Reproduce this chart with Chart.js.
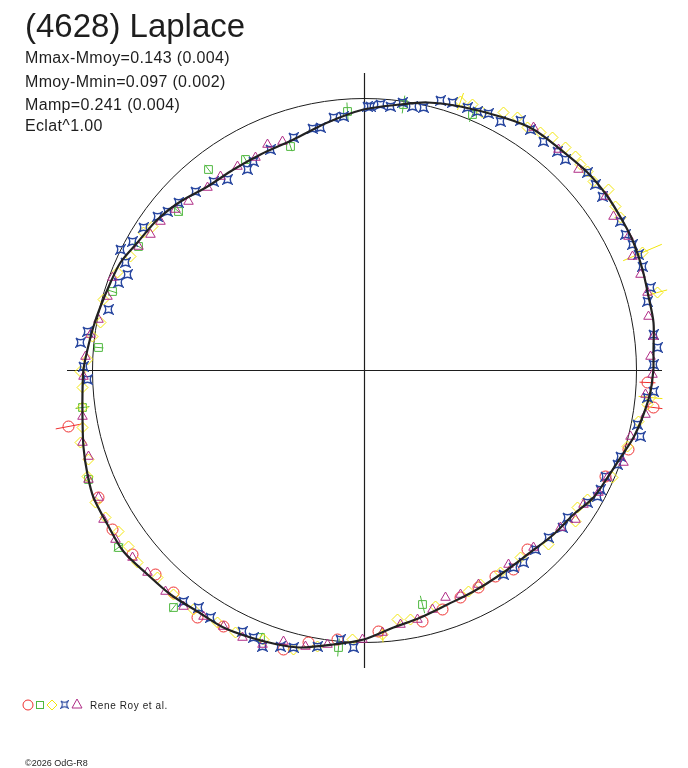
<!DOCTYPE html>
<html>
<head>
<meta charset="utf-8">
<script src="https://cdn.jsdelivr.net/npm/chart.js@4.4.1/dist/chart.umd.min.js"></script>
<style>
  html, body { margin: 0; padding: 0; background: #fff; }
  #wrap { width: 688px; height: 768px; }
</style>
</head>
<body>
<div id="wrap"><canvas id="polarChart" width="688" height="768"></canvas></div>
<script>
// Lightcurve in polar form, offsets from centre (mean circle radius = 272)
const circleRadius = 272;
const axisReach = 297.5;

const titleText = "(4628) Laplace";
const infoLines = [
  "Mmax-Mmoy=0.143 (0.004)",
  "Mmoy-Mmin=0.097 (0.002)",
  "Mamp=0.241 (0.004)",
  "Eclat^1.00",
];
const legendText = "Rene Roy et al.";
const copyText = "\u00a92026 OdG-R8";

// Fitted curve
const curveX = [289, 289, 289, 284, 278, 269, 259, 243, 223, 196, 169, 139, 96, 63, 36, -1, -37, -71, -104, -131, -157, -184, -207, -227, -244, -254, -264, -271, -277, -281, -282, -282, -281, -277, -271, -257, -241, -217, -194, -167, -141, -114, -87, -64, -31, -1, 29, 56, 83, 109, 136, 163, 189, 209, 229, 243, 256, 269, 279, 286];
const curveY = [1, 21, 48, 74, 101, 128, 148, 174, 198, 221, 241, 253, 264, 268, 266, 261, 248, 231, 216, 201, 184, 169, 151, 128, 108, 88, 64, 44, 21, 1, -21, -47, -77, -104, -127, -154, -181, -204, -224, -241, -257, -267, -274, -277, -274, -269, -257, -247, -234, -221, -204, -184, -164, -144, -127, -107, -87, -67, -44, -21];

// Observation sessions (x, y, radial error)
const redX = [-296, -266, -252, -232, -209, -191, -167, -141, -81, -56, -27, 14, 58, 78, 96, 114, 131, 149, 163, 241, 264, 283, 289];
const redY = [-56, -127, -159, -184, -204, -222, -247, -256, -279, -272, -269, -261, -251, -239, -227, -217, -206, -199, -179, -106, -79, -12, -37];
const redErr = [13, 0, 0, 0, 0, 0, 0, 0, 0, 0, 0, 0, 0, 0, 0, 0, 0, 0, 0, 0, 0, 8, 9];

const greenX = [-17, -74, -119, -156, -186, -226, -252, -266, 39, 108, -282, -276, -246, -191, -104, -26, 58];
const greenY = [259, 224, 211, 201, 159, 124, 79, 23, 266, 256, -37, -109, -177, -237, -267, -277, -234];
const greenErr = [9, 5, 5, 6, 6, 5, 5, 5, 9, 8, 7, 5, 6, 6, 5, 9, 9];

const yellowX = [96, 108, 118, 139, 153, 163, 176, 188, 201, 211, 216, 223, 229, 244, 251, 256, 278, 293,
  -212, -221, -234, -247, -261, -264, -272, -277, -284,
  -282, -282, -282, -284, -276, -277, -269, -259, -246, -236, -227, -207, -191, -171, -147, -129, -101, -71, -47, -12,
  286, 283, 274, 263, 248, 223, 213, 211, 184, 156, 136, 116, 104, 71, 46, 33, 18];
const yellowY = [269, 266, 258, 258, 253, 243, 238, 233, 223, 214, 206, 199, 189, 181, 164, 153, 118, 78,
  144, 138, 114, 98, 71, 48, 34, 11, -1,
  -17, -37, -57, -72, -89, -106, -132, -147, -161, -176, -192, -207, -224, -239, -252, -262, -269, -279, -276, -269,
  -27, -34, -51, -76, -107, -129, -137, -151, -174, -187, -202, -214, -221, -236, -249, -249, -264];
const yellowErr = [9, 0, 0, 0, 0, 0, 0, 0, 0, 0, 0, 0, 0, 0, 0, 0, 21, 10,
  0, 0, 0, 0, 0, 0, 0, 0, 0,
  0, 0, 0, 0, 0, 0, 0, 0, 0, 0, 0, 0, 0, 0, 0, 0, 0, 0, 0, 0,
  12, 0, 0, 0, 0, 0, 0, 0, 0, 0, 0, 0, 0, 0, 0, 0, 8];

const blueX = [3, -21, -31, -44, -52, -71, -94, -111, -117, -137, -151, -169, -186, -197, -207, -221, -232, -244, -239, -237, -246, -256, -277, -284, -281,
  6, 16, 26, 38, 48, 59, 76, 88, 103, 113, 124, 136, 156, 166, 179, 193, 201, 223, 231, 238, 256, 261, 268, 274, 278, 286, 283, 289, 293, 289,
  289, 283, 273, 276, 256, 253, 241, 236, 233, 223, 203, 198, 184, 171, 159, 149, 139,
  -277, -181, -166, -154, -122, -111, -102, -84, -71, -47, -24, -11];
const blueY = [264, 254, 253, 243, 242, 233, 221, 209, 201, 191, 189, 179, 168, 159, 154, 143, 129, 121, 108, 96, 88, 61, 39, 28, 4,
  264, 266, 264, 268, 264, 263, 270, 268, 263, 259, 257, 249, 250, 241, 229, 219, 211, 198, 186, 174, 149, 136, 126, 116, 104, 83, 69, 36, 23, 6,
  -21, -27, -54, -66, -86, -94, -106, -119, -126, -132, -147, -157, -167, -179, -192, -197, -204,
  -9, -231, -237, -247, -261, -267, -276, -276, -277, -276, -269, -277];

const magentaX = [-97, -82, -109, -127, -144, -157, -176, -189, -204, -214, -226, -252, -257, -266, -274, -279, -281,
  169, 194, 214, 241, 249, 264, 268, 276, 283, 284, 289, 286, 288,
  281, 281, 266, 259, 243, 234, 219, 211, 196, 169, 144, 114, 96, 81, 68, 53, 36, 18, -2,
  -282, -282, -276, -276, -266, -261, -249, -232, -217, -199, -181, -161, -141, -122, -102, -81, -59, -37];
const magentaY = [226, 229, 213, 204, 194, 183, 169, 161, 149, 136, 124, 93, 74, 51, 36, 14, -6,
  243, 221, 201, 174, 154, 134, 114, 96, 78, 54, 34, 14, -4,
  -24, -44, -66, -92, -107, -122, -134, -149, -157, -177, -194, -214, -224, -227, -239, -249, -254, -262, -269,
  -46, -72, -86, -109, -127, -149, -169, -187, -202, -221, -236, -246, -256, -267, -274, -271, -276, -274];

const COLORS = {
  red: "#ee2f2f",
  green: "#4fb83f",
  yellow: "#f2e60c",
  blue: "#2a48a0",
  magenta: "#b02c86",
  ink: "#1e1e1e",
};

// Concave four-point star used for one session
function makeStar(color, size) {
  const c = document.createElement("canvas");
  c.width = size;
  c.height = size;
  const g = c.getContext("2d");
  const a = 1, b = size - 1, m = size / 2;
  g.strokeStyle = color;
  g.lineWidth = 1.4;
  g.beginPath();
  g.moveTo(a, a);
  g.quadraticCurveTo(m, m - 1, b, a);
  g.quadraticCurveTo(m + 1, m, b, b);
  g.quadraticCurveTo(m, m + 1, a, b);
  g.quadraticCurveTo(m - 1, m, a, a);
  g.stroke();
  return c;
}
const blueStar = makeStar(COLORS.blue, 11);

function zip(xs, ys, errs) {
  return xs.map((x, i) => ({ x: x, y: ys[i], err: errs ? errs[i] : 0 }));
}

function markerSet(label, xs, ys, errs, color, style, radius, order) {
  return {
    label: label,
    data: zip(xs, ys, errs),
    showLine: false,
    clip: false,
    pointStyle: style,
    pointRadius: radius,
    pointBorderWidth: 1,
    pointBorderColor: color,
    pointBackgroundColor: "rgba(0,0,0,0)",
    barColor: color,
    order: order,
  };
}

// Axes cross + mean circle behind the data
const backdrop = {
  id: "backdrop",
  beforeDatasetsDraw(chart) {
    const { ctx, chartArea, scales } = chart;
    const cx = scales.x.getPixelForValue(0);
    const cy = scales.y.getPixelForValue(0);
    const r = scales.x.getPixelForValue(circleRadius) - cx;
    ctx.save();
    ctx.strokeStyle = COLORS.ink;
    ctx.lineWidth = 1.2;
    ctx.beginPath();
    ctx.moveTo(chartArea.left, cy);
    ctx.lineTo(chartArea.right, cy);
    ctx.moveTo(cx, chartArea.top);
    ctx.lineTo(cx, chartArea.bottom);
    ctx.stroke();
    ctx.lineWidth = 1;
    ctx.beginPath();
    ctx.arc(cx, cy, r, 0, Math.PI * 2);
    ctx.stroke();

    // radial error bars
    chart.data.datasets.forEach((ds) => {
      if (!ds.barColor) return;
      ctx.strokeStyle = ds.barColor;
      ctx.lineWidth = 1;
      ds.data.forEach((p) => {
        if (!p.err) return;
        const len = Math.hypot(p.x, p.y);
        const ux = p.x / len, uy = p.y / len;
        ctx.beginPath();
        ctx.moveTo(scales.x.getPixelForValue(p.x - ux * p.err), scales.y.getPixelForValue(p.y - uy * p.err));
        ctx.lineTo(scales.x.getPixelForValue(p.x + ux * p.err), scales.y.getPixelForValue(p.y + uy * p.err));
        ctx.stroke();
      });
    });
    ctx.restore();
  },
};

// Header, legend and credit texts
const captions = {
  id: "captions",
  afterDraw(chart) {
    const ctx = chart.ctx;
    ctx.save();
    ctx.fillStyle = COLORS.ink;
    ctx.textBaseline = "alphabetic";
    ctx.font = '33px "Liberation Sans", Arial, sans-serif';
    ctx.fillText(titleText, 25, 37);
    ctx.font = '16px "Liberation Sans", Arial, sans-serif';
    ctx.letterSpacing = "0.35px";
    const baselines = [63, 87, 110, 131];
    infoLines.forEach((line, i) => ctx.fillText(line, 25, baselines[i]));

    // legend symbols
    const ly = 705;
    ctx.lineWidth = 1;
    ctx.strokeStyle = COLORS.red;
    ctx.beginPath();
    ctx.arc(28, ly, 5, 0, Math.PI * 2);
    ctx.stroke();
    ctx.strokeStyle = COLORS.green;
    ctx.strokeRect(36.5, ly - 3.5, 7, 7);
    ctx.strokeStyle = COLORS.yellow;
    ctx.beginPath();
    ctx.moveTo(52, ly - 5);
    ctx.lineTo(57, ly);
    ctx.lineTo(52, ly + 5);
    ctx.lineTo(47, ly);
    ctx.closePath();
    ctx.stroke();
    ctx.drawImage(blueStar, 60, ly - 5, 9, 9);
    ctx.strokeStyle = COLORS.magenta;
    ctx.beginPath();
    ctx.moveTo(77, ly - 6);
    ctx.lineTo(82, ly + 3);
    ctx.lineTo(72, ly + 3);
    ctx.closePath();
    ctx.stroke();

    ctx.fillStyle = COLORS.ink;
    ctx.font = '10px "Liberation Sans", Arial, sans-serif';
    ctx.letterSpacing = "0.6px";
    ctx.fillText(legendText, 90, 709);
    ctx.font = '9px "Liberation Sans", Arial, sans-serif';
    ctx.letterSpacing = "0px";
    ctx.fillText(copyText, 25, 766);
    ctx.restore();
  },
};

const ctx = document.getElementById("polarChart").getContext("2d");
new Chart(ctx, {
  type: "scatter",
  data: {
    datasets: [
      {
        label: "fit",
        data: zip(curveX.concat(curveX[0]), curveY.concat(curveY[0])),
        showLine: true,
        borderColor: "#222",
        borderWidth: 2.2,
        pointRadius: 0,
        tension: 0.3,
        order: 0,
      },
      markerSet("red", redX, redY, redErr, COLORS.red, "circle", 5.5, 5),
      markerSet("green", greenX, greenY, greenErr, COLORS.green, "rect", 5.5, 4),
      markerSet("yellow", yellowX, yellowY, yellowErr, COLORS.yellow, "rectRot", 5.5, 3),
      markerSet("blue", blueX, blueY, null, COLORS.blue, blueStar, 5, 2),
      markerSet("magenta", magentaX, magentaY, null, COLORS.magenta, "triangle", 5.5, 1),
    ],
  },
  options: {
    responsive: false,
    animation: false,
    devicePixelRatio: 1,
    layout: { padding: { left: 67, right: 26, top: 73, bottom: 100 } },
    scales: {
      x: { type: "linear", min: -axisReach, max: axisReach, display: false },
      y: { type: "linear", min: -axisReach, max: axisReach, display: false },
    },
    plugins: {
      legend: { display: false },
      tooltip: { enabled: false },
    },
  },
  plugins: [backdrop, captions],
});
</script>
</body>
</html>
